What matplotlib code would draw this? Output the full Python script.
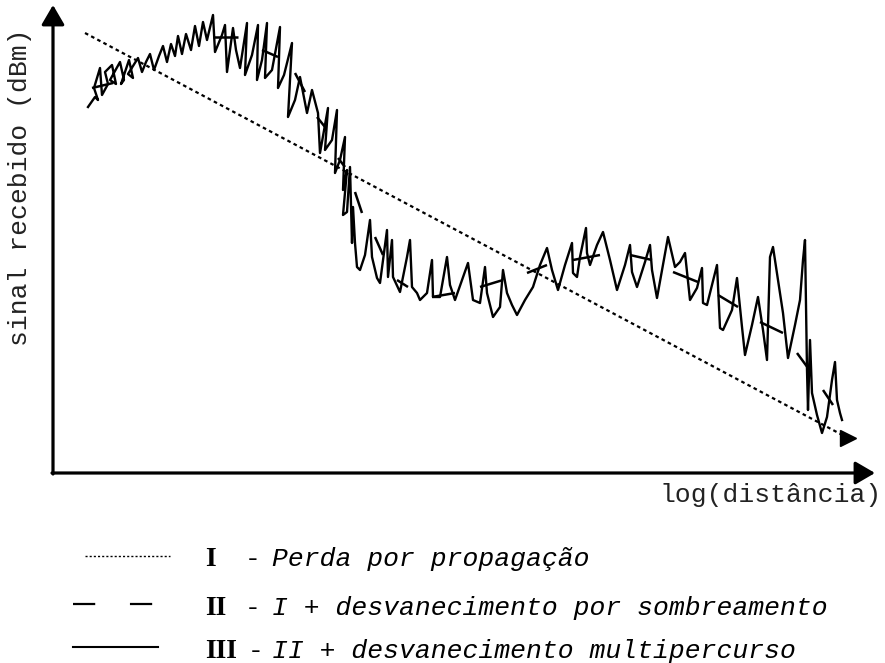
import matplotlib
matplotlib.use("Agg")
import matplotlib.pyplot as plt
import numpy as np
from matplotlib.lines import Line2D

plt.rcParams["font.family"] = ["Liberation Mono", "DejaVu Sans Mono"]
plt.rcParams["lines.scale_dashes"] = False

W, H = 885, 663

# propagation loss (I): straight line in log-distance
loss_x = [32, 795]
loss_y = [440, 35]

# shadowing (II): visible dash pieces, start/end pairs
shadow_x = [39, 60, 160, 185, 209, 225, 242, 252, 264, 272, 285, 292, 302, 309,
            322, 330, 344, 355, 379, 402, 427, 450, 474, 494, 520, 547, 577, 599,
            620, 645, 665, 685, 707, 730, 744, 755, 770, 780]
shadow_y = [385, 390, 436, 436, 423, 416, 400, 381, 356, 346, 315, 306, 281, 260,
            236, 218, 193, 186, 176, 180, 186, 193, 200, 208, 213, 218, 218, 213,
            201, 191, 178, 166, 151, 140, 120, 105, 83, 68]

# multipath (III): received signal trace
multi_x = [35, 42, 45, 41, 47, 49, 55, 52, 59, 63, 57, 67, 71, 68, 76, 80, 75, 85,
           89, 93, 97, 101, 106, 110, 114, 118, 122, 125, 129, 133, 138, 142, 146,
           150, 154, 160,
           162, 169, 172, 174, 180, 183, 187, 194, 192, 199, 205, 204, 209, 214,
           212, 219, 227, 225, 231, 239, 235, 242, 247, 254, 259, 265, 267, 275,
           272, 279, 284, 282, 287, 292, 290,
           294, 290, 294, 297, 299, 300, 302, 304, 307, 312, 317, 319, 324, 327,
           334, 335, 339, 340, 347, 354, 357, 359, 364, 367, 374, 379, 380, 387,
           394, 397, 402, 409, 415, 420, 427, 432, 434, 440, 447, 450, 454, 459,
           464, 472, 480, 487, 494, 499, 505, 512, 519, 520, 524, 527, 533, 534,
           537, 544, 550, 557, 564, 572, 577, 579, 584, 592, 597, 599, 604, 610,
           615, 622, 627, 632, 637, 644, 649, 650, 654, 659, 664, 667, 670, 679,
           684, 689, 692, 699, 705, 710, 714, 717, 720, 725, 730, 735, 742, 747,
           750, 752, 754, 755, 757, 759, 764, 769, 774, 779, 782, 784, 787, 789]
multi_y = [366, 376, 373, 385, 405, 378, 389, 401, 408, 389, 393, 411, 393, 389,
           413, 395, 399, 415, 401, 411, 419, 403, 417, 427, 411, 429, 417, 437,
           419, 439, 423, 447, 427, 451, 433, 458,
           421, 438, 448, 401, 445, 423, 405, 450, 398, 418, 448, 393, 413, 450,
           395, 403, 446, 385, 398, 430, 356, 373, 396, 360, 383, 360, 320, 365,
           323, 333, 363, 300, 313, 336, 283,
           303, 258, 261, 306, 230, 266, 230, 206, 203, 218, 253, 216, 195, 190,
           243, 196, 233, 196, 181, 216, 233, 186, 180, 173, 180, 213, 176, 176,
           216, 188, 173, 193, 210, 173, 170, 206, 180, 156, 166, 203, 180, 168,
           158, 173, 186, 208, 225, 203, 183, 208, 230, 200, 196, 216, 245, 220,
           208, 228, 241, 213, 183, 208, 228, 201, 186, 211, 228, 203, 175, 208,
           236, 206, 211, 220, 173, 185, 205, 170, 168, 188, 208, 145, 143, 163,
           195, 146, 118, 148, 176, 143, 113, 216, 226, 193, 160, 115, 148, 173,
           213, 233, 103, 63, 133, 80, 58, 40, 56, 93, 111, 73, 60, 53]

# legend entries
leg_bold = ["I", "II", "III"]
leg_text = ["Perda por propagação",
            "I + desvanecimento por sombreamento",
            "II + desvanecimento multipercurso"]


def fx(px):
    return px / W


def fy(py):
    return 1 - py / H


fig = plt.figure(figsize=(W / 100, H / 100), dpi=100)
ax = fig.add_axes([fx(53), fy(473), (W - 53) / W, 473 / H])
ax.set_xlim(0, W - 53)
ax.set_ylim(0, 473)
ax.axis("off")

# axes with arrows
arrow = dict(arrowstyle="-|>,head_length=0.6,head_width=0.35", lw=2.3,
             color="black", shrinkA=0, shrinkB=0, mutation_scale=20)
ax.annotate("", xy=(0, 468), xytext=(0, -1), arrowprops=arrow,
            annotation_clip=False)
ax.annotate("", xy=(822, 0), xytext=(-1, 0), arrowprops=arrow,
            annotation_clip=False)

# curves
ax.plot(loss_x, loss_y, color="black", lw=1.6, dashes=(2.6, 2.4),
        clip_on=False)
ax.plot(loss_x[-1], loss_y[-1], marker=">", ms=11, color="black",
        clip_on=False)
sx = np.array(shadow_x).reshape(-1, 2).T
sy = np.array(shadow_y).reshape(-1, 2).T
ax.plot(sx, sy, color="black", lw=1.8, solid_capstyle="butt", clip_on=False)
ax.plot(multi_x, multi_y, color="black", lw=1.7, clip_on=False)

# axis labels
fig.text(fx(20), fy(187), "sinal recebido (dBm)", rotation=90,
         ha="center", va="center", fontsize=19, color="#222222")
fig.text(fx(882), fy(495), "log(distância)", ha="right", va="center",
         fontsize=19, color="#222222")

# legend
baselines = [566, 615, 658]
fig.add_artist(Line2D([fx(85), fx(170)], [fy(556), fy(556)], color="black",
                      lw=1.0, dashes=(1.5, 1.5)))
fig.add_artist(Line2D([fx(73), fx(155)], [fy(604), fy(604)], color="black",
                      lw=1.6, dashes=(16, 25)))
fig.add_artist(Line2D([fx(73), fx(158)], [fy(647), fy(647)], color="black",
                      lw=1.5))
for i, b in enumerate(baselines):
    fig.text(fx(205), fy(b), leg_bold[i], ha="left", va="baseline",
             fontsize=20, fontweight="bold", family="Liberation Serif")
    fig.text(fx(245 if i < 2 else 248), fy(b), "-", ha="left",
             va="baseline", fontsize=19)
    fig.text(fx(272), fy(b), leg_text[i], ha="left", va="baseline",
             fontsize=19, style="italic")

fig.savefig("out.png", dpi=100)
